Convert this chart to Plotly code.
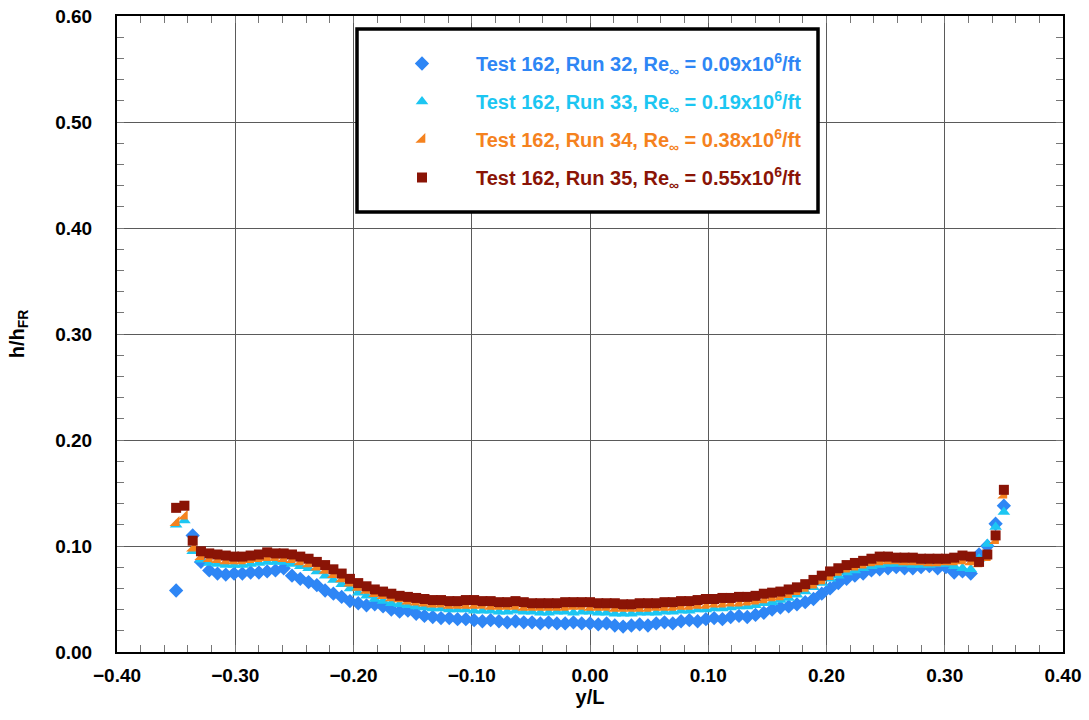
import plotly.graph_objects as go

# ---- data ----
y_over_L = [
    -0.350, -0.343, -0.336, -0.329, -0.322, -0.315, -0.308, -0.301, -0.294, -0.287,
    -0.280, -0.273, -0.266, -0.259, -0.252, -0.245, -0.238, -0.231, -0.224, -0.217,
    -0.210, -0.203, -0.196, -0.189, -0.182, -0.175, -0.168, -0.161, -0.154, -0.147,
    -0.140, -0.133, -0.126, -0.119, -0.112, -0.105, -0.098, -0.091, -0.084, -0.077,
    -0.070, -0.063, -0.056, -0.049, -0.042, -0.035, -0.028, -0.021, -0.014, -0.007,
    0.000, 0.007, 0.014, 0.021, 0.028, 0.035, 0.042, 0.049, 0.056, 0.063,
    0.070, 0.077, 0.084, 0.091, 0.098, 0.105, 0.112, 0.119, 0.126, 0.133,
    0.140, 0.147, 0.154, 0.161, 0.168, 0.175, 0.182, 0.189, 0.196, 0.203,
    0.210, 0.217, 0.224, 0.231, 0.238, 0.245, 0.252, 0.259, 0.266, 0.273,
    0.280, 0.287, 0.294, 0.301, 0.308, 0.315, 0.322, 0.329, 0.336, 0.343,
    0.350,
]

run32 = [
    0.058, None, 0.110, 0.085, 0.077, 0.074, 0.073, 0.074, 0.074, 0.075,
    0.075, 0.076, 0.077, 0.079, 0.072, 0.069, 0.066, 0.063, 0.058, 0.055,
    0.052, 0.048, 0.046, 0.044, 0.045, 0.043, 0.040, 0.038, 0.039, 0.036,
    0.034, 0.033, 0.032, 0.032, 0.031, 0.031, 0.030, 0.029, 0.030, 0.029,
    0.028, 0.029, 0.028, 0.028, 0.027, 0.028, 0.027, 0.027, 0.028, 0.027,
    0.027, 0.026, 0.027, 0.025, 0.024, 0.025, 0.026, 0.025, 0.027, 0.028,
    0.027, 0.029, 0.030, 0.029, 0.031, 0.032, 0.031, 0.033, 0.034, 0.033,
    0.035, 0.037, 0.040, 0.042, 0.043, 0.045, 0.047, 0.050, 0.055, 0.060,
    0.065, 0.069, 0.072, 0.074, 0.077, 0.078, 0.079, 0.080, 0.079, 0.079,
    0.080, 0.081, 0.079, 0.080, 0.075, 0.076, 0.074, 0.092, 0.100, 0.121,
    0.138,
]

run33 = [
    0.120, 0.124, 0.095, 0.087, 0.084, 0.083, 0.082, 0.082, 0.082, 0.083,
    0.084, 0.085, 0.085, 0.085, 0.083, 0.081, 0.079, 0.076, 0.072, 0.068,
    0.064, 0.060, 0.056, 0.053, 0.050, 0.048, 0.046, 0.045, 0.044, 0.043,
    0.042, 0.041, 0.041, 0.040, 0.040, 0.040, 0.039, 0.039, 0.039, 0.038,
    0.038, 0.039, 0.038, 0.038, 0.037, 0.037, 0.038, 0.038, 0.037, 0.038,
    0.038, 0.037, 0.037, 0.036, 0.036, 0.036, 0.037, 0.037, 0.037, 0.038,
    0.038, 0.039, 0.039, 0.040, 0.040, 0.041, 0.041, 0.042, 0.043, 0.043,
    0.044, 0.046, 0.047, 0.049, 0.051, 0.054, 0.057, 0.061, 0.065, 0.069,
    0.072, 0.075, 0.077, 0.079, 0.081, 0.082, 0.083, 0.083, 0.083, 0.082,
    0.082, 0.082, 0.083, 0.083, 0.081, 0.079, 0.078, 0.088, 0.102, 0.118,
    0.132,
]

run34 = [
    0.122, 0.128, 0.098, 0.090, 0.088, 0.087, 0.086, 0.086, 0.086, 0.087,
    0.088, 0.089, 0.089, 0.088, 0.087, 0.085, 0.083, 0.080, 0.077, 0.073,
    0.069, 0.065, 0.061, 0.058, 0.055, 0.053, 0.051, 0.050, 0.048, 0.047,
    0.046, 0.045, 0.045, 0.044, 0.044, 0.044, 0.044, 0.044, 0.043, 0.043,
    0.043, 0.043, 0.042, 0.042, 0.042, 0.042, 0.042, 0.042, 0.043, 0.043,
    0.042, 0.042, 0.042, 0.041, 0.041, 0.041, 0.041, 0.041, 0.042, 0.042,
    0.042, 0.043, 0.043, 0.044, 0.044, 0.045, 0.045, 0.046, 0.046, 0.047,
    0.048, 0.049, 0.051, 0.052, 0.054, 0.057, 0.060, 0.063, 0.067, 0.071,
    0.075, 0.078, 0.080, 0.082, 0.084, 0.085, 0.086, 0.086, 0.085, 0.085,
    0.085, 0.084, 0.084, 0.085, 0.085, 0.086, 0.085, 0.083, 0.089, 0.105,
    0.148,
]

run35 = [
    0.136, 0.138, 0.105, 0.095, 0.093, 0.092, 0.091, 0.090, 0.090, 0.091,
    0.092, 0.094, 0.093, 0.093, 0.092, 0.090, 0.088, 0.085, 0.082, 0.078,
    0.074, 0.069, 0.065, 0.062, 0.059, 0.057, 0.055, 0.053, 0.052, 0.051,
    0.050, 0.049, 0.049, 0.048, 0.048, 0.049, 0.049, 0.048, 0.048, 0.047,
    0.047, 0.048, 0.047, 0.046, 0.046, 0.046, 0.046, 0.047, 0.047, 0.047,
    0.047, 0.046, 0.046, 0.046, 0.045, 0.045, 0.046, 0.046, 0.046, 0.047,
    0.047, 0.048, 0.048, 0.049, 0.050, 0.050, 0.051, 0.051, 0.052, 0.052,
    0.053, 0.055, 0.056, 0.057, 0.059, 0.061, 0.064, 0.068, 0.072, 0.076,
    0.079, 0.082, 0.084, 0.086, 0.088, 0.090, 0.090, 0.089, 0.089, 0.089,
    0.088, 0.088, 0.088, 0.088, 0.089, 0.091, 0.090, 0.085, 0.092, 0.110,
    0.153,
]

series_names = [
    "Test 162, Run 32, Re<sub>∞</sub> = 0.09x10<sup>6</sup>/ft",
    "Test 162, Run 33, Re<sub>∞</sub> = 0.19x10<sup>6</sup>/ft",
    "Test 162, Run 34, Re<sub>∞</sub> = 0.38x10<sup>6</sup>/ft",
    "Test 162, Run 35, Re<sub>∞</sub> = 0.55x10<sup>6</sup>/ft",
]
series_values = [run32, run33, run34, run35]
series_colors = ["#2E86F5", "#1CC6F2", "#F5821E", "#8A1406"]
series_symbols = ["diamond", "triangle-up", "triangle-se", "square"]
series_sizes = [11, 11, 11, 10]

x_ticks = [-0.40, -0.30, -0.20, -0.10, 0.00, 0.10, 0.20, 0.30, 0.40]
y_ticks = [0.00, 0.10, 0.20, 0.30, 0.40, 0.50, 0.60]

FONT = "Liberation Sans, Arial, Helvetica, sans-serif"

fig = go.Figure()
for i, (nm, vals, col, sym, sz) in enumerate(zip(series_names, series_values, series_colors, series_symbols, series_sizes)):
    fig.add_trace(go.Scatter(
        x=y_over_L, y=vals, mode="markers",
        name=f"<span style='color:{col}'><b>{nm}</b></span>",
        legendgroup=f"g{i}",
        marker=dict(symbol=sym, size=sz, color=col, line=dict(width=0)),
    ))

W, H = 1089, 720
L, R, T, B = 117, 26, 16, 68
pw, ph = W - L - R, H - T - B

def px2paper_x(px):
    return (px - L) / pw

def px2paper_y(py):
    return (H - B - py) / ph

fig.add_shape(type="rect", xref="paper", yref="paper",
              x0=px2paper_x(357), x1=px2paper_x(818),
              y0=px2paper_y(212), y1=px2paper_y(29),
              line=dict(color="black", width=3.5), fillcolor="white", layer="above")

axis_common = dict(
    showline=True, linecolor="black", linewidth=2, mirror="allticks",
    showgrid=True, gridcolor="#5a5a5a", gridwidth=1,
    ticks="inside", ticklen=0, tickcolor="#5a5a5a",
    zeroline=False, ticklabeloverflow="allow",
    tickfont=dict(family=FONT, size=19, color="black", weight="bold"),
    title_font=dict(family=FONT, size=20, color="black", weight="bold"),
)

fig.update_xaxes(
    range=[-0.40, 0.40], tickvals=x_ticks, tickformat=".2f",
    minor=dict(dtick=0.02, tick0=0, ticks="inside", ticklen=7, tickcolor="#777777", showgrid=False),
    title=dict(text="y/L", standoff=1),
    ticklabelstandoff=5,
    **axis_common,
)
fig.update_yaxes(
    range=[0.0, 0.60], tickvals=y_ticks, tickformat=".2f",
    minor=dict(dtick=0.02, tick0=0, ticks="inside", ticklen=7, tickcolor="#777777", showgrid=False),
    title=dict(text="h/h<sub>FR</sub>", standoff=25),
    ticklabelstandoff=19,
    **axis_common,
)

fig.update_layout(
    width=W, height=H,
    margin=dict(l=L, r=R, t=T, b=B, autoexpand=False),
    paper_bgcolor="white", plot_bgcolor="white",
    showlegend=True,
    legend=dict(
        x=px2paper_x(368), y=px2paper_y(44), xanchor="left", yanchor="top",
        bgcolor="rgba(0,0,0,0)", borderwidth=0,
        font=dict(family=FONT, size=20),
        tracegroupgap=9, traceorder="grouped", itemwidth=98,
    ),
)

fig.write_html("out.html", config={"displayModeBar": False},
               post_script="document.body.style.margin='0';")
